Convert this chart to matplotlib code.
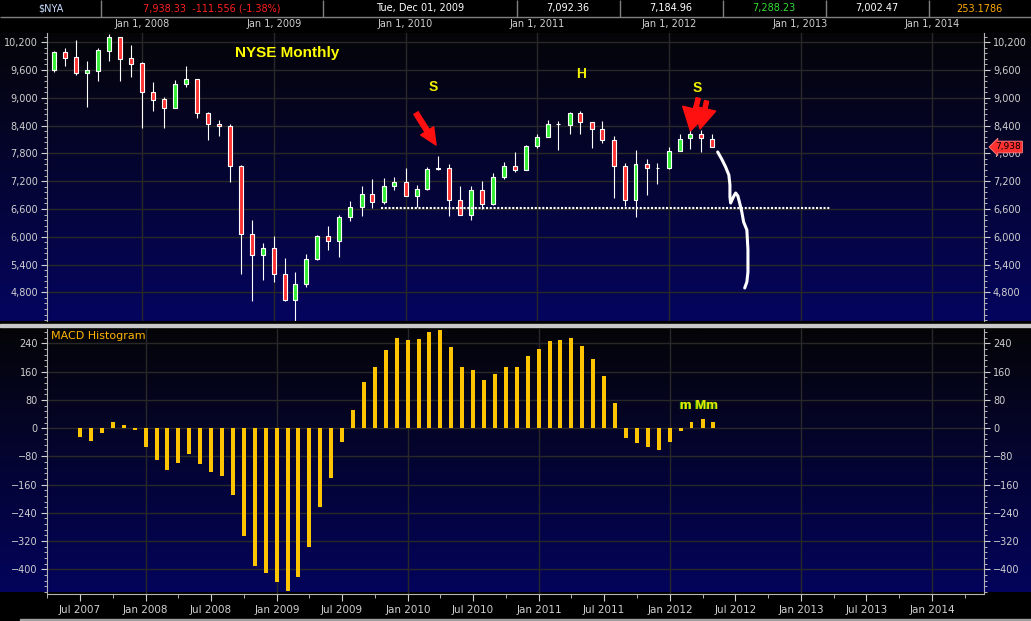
import matplotlib
matplotlib.use("Agg")
import matplotlib.pyplot as plt
import matplotlib.dates as mdates
import matplotlib.colors as mcolors
import matplotlib.transforms as mtransforms
from matplotlib.patches import Rectangle
from matplotlib.ticker import MultipleLocator, FuncFormatter
import numpy as np
import pandas as pd

plt.rcParams['font.family'] = ['DejaVu Sans']

# monthly candles May 2007 .. May 2012
candle_start = '2007-05-01'
opens = [9603, 9984, 9876, 9546, 9589, 10020, 10308, 9855,
         9754, 9122, 8970, 8791, 9294, 9402, 8669, 8431, 8388, 7525, 6059, 5598,
         5757, 5196, 4628, 4973, 5512, 6015, 5900, 6422, 6638, 6925, 6746, 7092,
         7184, 6882, 7033, 7457, 7486, 6796, 6472, 7012, 6710, 7292, 7529, 7443,
         7961, 8155, 8435, 8414, 8672, 8478, 8327, 8090, 7529, 6796, 7572, 7486,
         7479, 7853, 8126, 8212, 8112]
highs = [10013, 10071, 10250, 9797, 10071, 10380, 10322, 10142,
         9769, 9344, 9021, 9388, 9697, 9410, 8697, 8525, 8431, 7547, 6368, 5864,
         6023, 5548, 5246, 5634, 6030, 6238, 6476, 6782, 7105, 7256, 7278, 7288,
         7493, 7127, 7508, 7752, 7572, 7105, 7105, 7213, 7378, 7616, 7831, 7982,
         8212, 8522, 8493, 8700, 8716, 8478, 8500, 8169, 7594, 7882, 7687, 7594,
         7939, 8227, 8335, 8313, 8227]
lows = [9567, 9689, 9503, 8812, 9373, 9797, 9373, 9459,
        8338, 8726, 8359, 8791, 9244, 8575, 8079, 8165, 7173, 5189, 4606, 5059,
        5016, 4606, 4175, 4908, 5491, 5706, 5555, 6329, 6444, 6631, 6710, 7002,
        6875, 6652, 7019, 7436, 6444, 6465, 6357, 6602, 6688, 7242, 7400, 7443,
        7918, 8155, 7867, 8212, 8212, 7910, 8025, 6832, 6659, 6429, 6896, 7134,
        7465, 7853, 7896, 7824, 7932]
closes = [9984, 9869, 9546, 9596, 10027, 10308, 9848, 9740,
          9122, 8963, 8791, 9294, 9402, 8669, 8424, 8388, 7525, 6059, 5598, 5757,
          5196, 4628, 4980, 5519, 6015, 5900, 6425, 6652, 6925, 6746, 7098, 7185,
          6882, 7033, 7465, 7486, 6796, 6472, 7012, 6710, 7292, 7529, 7443, 7961,
          8155, 8435, 8430, 8672, 8478, 8327, 8090, 7529, 6796, 7572, 7486, 7490,
          7853, 8112, 8212, 8126, 7938]

# MACD histogram Jul 2007 .. May 2012
macd_start = '2007-07-01'
macd = [-25, -36, -13, 17, 8, -5,
        -53, -90, -118, -98, -73, -101, -124, -135, -189, -306, -391, -411,
        -437, -462, -422, -337, -223, -141, -39, 51, 131, 173, 222, 256,
        250, 253, 273, 278, 230, 173, 165, 136, 153, 173, 173, 205,
        224, 247, 250, 256, 233, 196, 148, 71, -28, -43, -54, -62,
        -40, -8, 17, 26, 17]

price_ticks = list(range(4800, 10201, 600))
macd_ticks = list(range(-400, 241, 80))
year_ticks = pd.date_range('2008-01-01', '2014-01-01', freq='YS')
half_year_ticks = pd.date_range('2007-07-01', '2014-01-01', freq='6MS')
quarter_ticks = pd.date_range('2007-04-01', '2014-04-01', freq='3MS')

support_level = 6630
support_from, support_to = '2009-10-26', '2013-03-26'
last_price = 7938

# hand drawn projection (days after 2012-01-01, price)
sketch_days = [136, 147, 158, 167, 170, 170, 172, 181, 186, 192, 197, 203, 208, 217, 220, 220, 217, 211]
sketch_price = [7831, 7680, 7507, 7334, 7118, 6859, 6729, 6880, 6944, 6880, 6729, 6535, 6319, 6146,
                5714, 5239, 5023, 4893]

header_cells = ['$NYA', '7,938.33  -111.556 (-1.38%)', 'Tue, Dec 01, 2009',
                '7,092.36', '7,184.96', '7,288.23', '7,002.47', '253.1786']
header_colors = ['#c8dcff', '#ff2020', '#ffffff', '#ffffff', '#ffffff', '#33dd33', '#ffffff', '#ffaa00']
header_edges = [0, 101, 323, 516.5, 619.5, 722.5, 825.5, 928.5, 1031]

W, H = 1031, 621
fig = plt.figure(figsize=(W / 100, H / 100), dpi=100, facecolor='black')

# background layer in pixel coordinates
bg = fig.add_axes([0, 0, 1, 1])
bg.axis('off')


def gradient(y0, y1, c0, c1):
    t = np.linspace(0, 1, 256)[:, None]
    a, b = np.array(mcolors.to_rgb(c0)), np.array(mcolors.to_rgb(c1))
    img = (a * (1 - t) + b * t)[:, None, :]
    bg.imshow(img, extent=(0, W, y1, y0), aspect='auto', interpolation='bilinear')


gradient(33, 321, '#050508', '#04045f')
gradient(330, 592, '#050508', '#03035c')
bg.add_patch(Rectangle((0, 324), W, 3, color='#c8c8c8'))
bg.add_patch(Rectangle((20, 619), W - 20, 2, color='#a0a0a0'))
bg.hlines(16.5, 0, W, color='#808080', lw=1)
bg.vlines(header_edges[1:-1], 0, 16.5, color='#808080', lw=1)
for i, txt in enumerate(header_cells):
    bg.text((header_edges[i] + header_edges[i + 1]) / 2, 8.5, txt, color=header_colors[i],
            fontsize=7, ha='center', va='center')
bg.set_xlim(0, W)
bg.set_ylim(H, 0)

left, width = 47 / W, 937 / W
ax = fig.add_axes([left, 1 - 321 / H, width, 288 / H])
ax2 = fig.add_axes([left, 1 - 594 / H, width, 265 / H])

tick_col = '#d0d0d0'
grid_col = '#282828'
for a in (ax, ax2):
    a.patch.set_visible(False)
    for s in ('left', 'right'):
        a.spines[s].set_color('#b4b4b4')
    a.spines['top'].set_visible(False)
    a.set_xlim(mdates.date2num(pd.Timestamp('2007-04-12')), mdates.date2num(pd.Timestamp('2014-05-25')))
    a.tick_params(axis='y', which='both', direction='out', left=True, right=True,
                  labelleft=True, labelright=True, colors=tick_col, labelsize=7, pad=2)
    a.tick_params(axis='y', which='major', length=4.5)
    a.tick_params(axis='y', which='minor', length=2)
    a.grid(axis='y', color=grid_col, lw=1)
    a.set_axisbelow(True)
    for d in year_ticks:
        a.axvline(d, color=grid_col, lw=1, zorder=1)

# candles
x = mdates.date2num(pd.date_range(candle_start, periods=len(closes), freq='MS'))
o, c = np.array(opens), np.array(closes)
body_col = np.where(c >= o, '#33ee33', '#ff3333')
ax.vlines(x, lows, highs, color='white', lw=0.8, zorder=3)
ax.bar(x, np.abs(c - o), width=11, bottom=np.minimum(o, c), color=body_col,
       edgecolor='white', linewidth=0.8, zorder=4)

ax.set_ylim(4180, 10400)
ax.set_yticks(price_ticks)
ax.yaxis.set_minor_locator(MultipleLocator(120))
ax.yaxis.set_major_formatter(FuncFormatter(lambda v, p: f'{v:,.0f}'))
ax.spines['bottom'].set_visible(False)
ax.set_xticks(mdates.date2num(year_ticks))
ax.set_xticklabels([d.strftime('%b 1, %Y') for d in year_ticks])
ax.xaxis.set_ticks_position('top')
ax.tick_params(axis='x', length=0, colors=tick_col, labelsize=7, pad=3)

ax.hlines(support_level, mdates.date2num(pd.Timestamp(support_from)), mdates.date2num(pd.Timestamp(support_to)),
          colors='white', lw=1.5, linestyles=(0, (1, 0.8)), zorder=5)
sketch_x = mdates.date2num(pd.Timestamp('2012-01-01') + pd.to_timedelta(sketch_days, unit='D'))
ax.plot(sketch_x, sketch_price, color='white', lw=2.2, solid_capstyle='round', zorder=5)

ax.text(0.2006, 0.93, 'NYSE Monthly', transform=ax.transAxes, color='#ffff00', fontsize=11,
        fontweight='bold', ha='left', va='center', family='Liberation Sans')
for tx, ty, s in [(0.412, 0.811, 'S'), (0.570, 0.856, 'H'), (0.6937, 0.809, 'S')]:
    ax.text(tx, ty, s, transform=ax.transAxes, color='#f0f000', fontsize=10, fontweight='bold',
            ha='center', va='center', family='Liberation Sans')
arrows = [((0.3938, 0.722), (0.4152, 0.611), 1.1, 1.2, 0.36),
          ((0.6950, 0.774), (0.6867, 0.660), 1.9, 1.6, 0.3),
          ((0.7040, 0.764), (0.6970, 0.667), 1.6, 1.5, 0.3)]
for tail, tip, hw, hl, tw in arrows:
    ax.annotate('', xy=tip, xytext=tail, xycoords='axes fraction', textcoords='axes fraction',
                arrowprops=dict(arrowstyle=f'simple,head_width={hw},head_length={hl},tail_width={tw}',
                                color='#ff1010', mutation_scale=10, shrinkA=0, shrinkB=0), zorder=6)

trans = mtransforms.blended_transform_factory(ax.transAxes, ax.transData)
ax.text(1.012, last_price, f'{last_price:,}', transform=trans, fontsize=6.5, color='black',
        ha='left', va='center', zorder=7,
        bbox=dict(boxstyle='larrow,pad=0.15', fc='#ff3030', ec='#ff8080', lw=0.6))

# MACD histogram
xm = mdates.date2num(pd.date_range(macd_start, periods=len(macd), freq='MS'))
ax2.bar(xm, macd, width=11, color='#ffc400', zorder=3)
ax2.set_ylim(-470, 281)
ax2.set_yticks(macd_ticks)
ax2.yaxis.set_minor_locator(MultipleLocator(16))
ax2.spines['bottom'].set_color('#b4b4b4')
ax2.set_xticks(mdates.date2num(half_year_ticks))
ax2.set_xticklabels([d.strftime('%b %Y') for d in half_year_ticks])
ax2.set_xticks(mdates.date2num(quarter_ticks), minor=True)
ax2.tick_params(axis='x', which='both', direction='out', colors=tick_col, labelsize=7.5, pad=3)
ax2.tick_params(axis='x', which='major', length=5)
ax2.tick_params(axis='x', which='minor', length=3)

ax2.text(0.004, 0.972, 'MACD Histogram', transform=ax2.transAxes, color='#ffb400', fontsize=8,
         ha='left', va='center')
for dx, col in [(-0.0012, '#30a000'), (0, '#e8e800')]:
    ax2.text(0.6756 + dx, 0.708, 'm Mm', transform=ax2.transAxes, color=col, fontsize=9.5,
             fontweight='bold', ha='left', va='center', family='Liberation Sans')

fig.savefig('out.png', dpi=100, facecolor='black')
